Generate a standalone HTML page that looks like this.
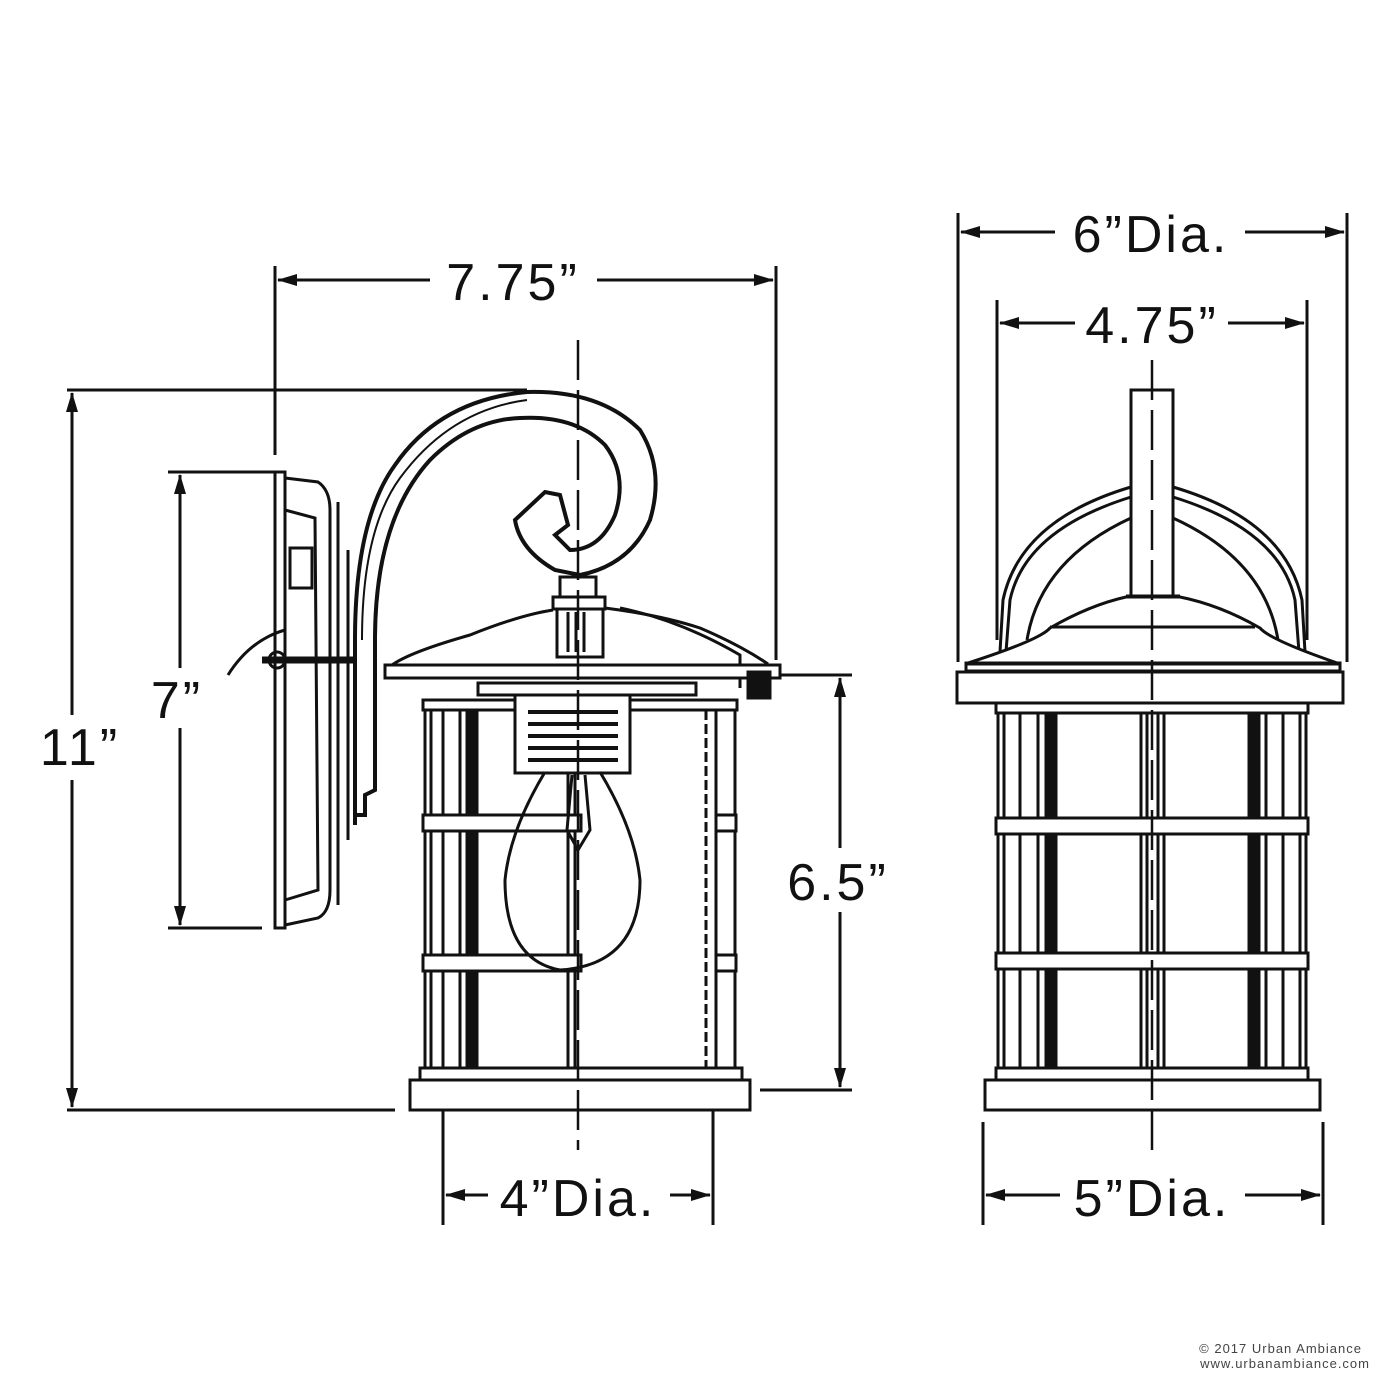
<!DOCTYPE html>
<html><head><meta charset="utf-8"><style>
html,body{margin:0;padding:0;background:#fff}
svg{display:block}
text{font-family:"Liberation Sans",sans-serif;fill:#111}
</style></head><body>
<svg width="1400" height="1400" viewBox="0 0 1400 1400" xmlns="http://www.w3.org/2000/svg">
<defs>
<marker id="a" viewBox="0 0 20 12" refX="19" refY="6" markerWidth="20" markerHeight="12" markerUnits="userSpaceOnUse" orient="auto-start-reverse"><path d="M0,0 L20,6 L0,12 Z" fill="#111"/></marker>
</defs>
<g stroke="#111" fill="none" stroke-width="3">
<!-- ========== RIGHT VIEW ========== -->
<line x1="958" y1="213" x2="958" y2="662"/>
<line x1="1347" y1="213" x2="1347" y2="662"/>
<line x1="961" y1="232" x2="1055" y2="232" marker-start="url(#a)"/>
<line x1="1245" y1="232" x2="1344" y2="232" marker-end="url(#a)"/>
<line x1="997" y1="300" x2="997" y2="640"/>
<line x1="1307" y1="300" x2="1307" y2="640"/>
<line x1="1000" y1="323" x2="1075" y2="323" marker-start="url(#a)"/>
<line x1="1228" y1="323" x2="1304" y2="323" marker-end="url(#a)"/>
<!-- arches -->
<path d="M1000,652 L1003,600 Q1020,520 1131,487" />
<path d="M1006,652 L1010,600 Q1025,530 1131,497" />
<path d="M1027,640 Q1040,560 1131,518" />
<path d="M1305,652 L1302,600 Q1285,520 1173,487" />
<path d="M1299,652 L1295,600 Q1280,530 1173,497" />
<path d="M1278,640 Q1265,560 1173,518" />
<!-- stem -->
<rect x="1131" y="390" width="42" height="207" fill="#fff"/>
<line x1="1126" y1="597" x2="1180" y2="597" stroke-width="5"/>
<!-- roof cap -->
<path d="M965,664 Q1040,640 1050,628 Q1090,605 1126,597 L1180,597 Q1220,605 1260,628 Q1270,640 1340,664 Z" fill="#fff"/>
<line x1="1050" y1="627" x2="1255" y2="627"/>
<rect x="966" y="663" width="374" height="8"/>
<rect x="957" y="672" width="386" height="31"/>
<!-- cage -->
<rect x="996" y="703" width="312" height="10"/>
<line x1="998" y1="713" x2="998" y2="1068"/>
<line x1="1306" y1="713" x2="1306" y2="1068"/>
<line x1="1004" y1="713" x2="1004" y2="1068"/>
<line x1="1020" y1="713" x2="1020" y2="1068"/>
<line x1="1038" y1="713" x2="1038" y2="1068"/>
<rect x="1046" y="713" width="10" height="355" fill="#111"/>
<rect x="1249" y="713" width="10" height="355" fill="#111"/>
<line x1="1266" y1="713" x2="1266" y2="1068"/>
<line x1="1283" y1="713" x2="1283" y2="1068"/>
<line x1="1300" y1="713" x2="1300" y2="1068"/>
<line x1="1141" y1="713" x2="1141" y2="1068"/>
<line x1="1147" y1="713" x2="1147" y2="1068"/>
<line x1="1158" y1="713" x2="1158" y2="1068"/>
<line x1="1164" y1="713" x2="1164" y2="1068"/>
<rect x="996" y="818" width="312" height="16" fill="#fff"/>
<rect x="996" y="953" width="312" height="16" fill="#fff"/>
<rect x="996" y="1068" width="312" height="12" fill="#fff"/>
<rect x="985" y="1080" width="335" height="30" fill="#fff"/>
<line x1="1152" y1="360" x2="1152" y2="1150" stroke-dasharray="40,10" stroke-width="2.5"/>
<line x1="983" y1="1122" x2="983" y2="1225"/>
<line x1="1323" y1="1122" x2="1323" y2="1225"/>
<line x1="986" y1="1195" x2="1060" y2="1195" marker-start="url(#a)"/>
<line x1="1245" y1="1195" x2="1320" y2="1195" marker-end="url(#a)"/>

<!-- ========== LEFT VIEW ========== -->
<line x1="275" y1="266" x2="275" y2="455"/>
<line x1="776" y1="266" x2="776" y2="660"/>
<line x1="278" y1="280" x2="430" y2="280" marker-start="url(#a)"/>
<line x1="597" y1="280" x2="773" y2="280" marker-end="url(#a)"/>
<line x1="67" y1="390" x2="527" y2="390"/>
<line x1="67" y1="1110" x2="395" y2="1110"/>
<line x1="72" y1="393" x2="72" y2="715" marker-start="url(#a)"/>
<line x1="72" y1="780" x2="72" y2="1107" marker-end="url(#a)"/>
<line x1="168" y1="472" x2="275" y2="472"/>
<line x1="168" y1="928" x2="262" y2="928"/>
<line x1="180" y1="475" x2="180" y2="668" marker-start="url(#a)"/>
<line x1="180" y1="728" x2="180" y2="925" marker-end="url(#a)"/>
<line x1="760" y1="675" x2="852" y2="675"/>
<line x1="760" y1="1090" x2="852" y2="1090"/>
<line x1="840" y1="678" x2="840" y2="848" marker-start="url(#a)"/>
<line x1="840" y1="912" x2="840" y2="1087" marker-end="url(#a)"/>
<line x1="443" y1="1095" x2="443" y2="1225"/>
<line x1="713" y1="1095" x2="713" y2="1225"/>
<line x1="446" y1="1195" x2="488" y2="1195" marker-start="url(#a)"/>
<line x1="670" y1="1195" x2="710" y2="1195" marker-end="url(#a)"/>
<!-- wall plate -->
<rect x="275" y="472" width="10" height="456"/>
<path d="M285,478 L318,482 Q330,490 330,510 L330,890 Q330,912 318,918 L285,925"/>
<path d="M285,510 L315,518 L318,890 L285,900"/>
<line x1="338" y1="502" x2="338" y2="905"/>
<line x1="348" y1="550" x2="348" y2="840"/>
<rect x="290" y="548" width="22" height="40"/>
<line x1="262" y1="660" x2="362" y2="660" stroke-width="7"/>
<circle cx="277" cy="660" r="8"/>
<path d="M228,675 Q250,640 285,630"/>
<!-- arm -->
<path d="M355,780 L355,640 Q355,520 395,465 Q440,400 527,392 Q600,390 640,430 Q665,470 650,520 Q630,565 580,575 L555,570 Q520,550 515,520 L545,492 L560,495 L568,525 L555,535 L570,550 Q600,550 615,515 Q628,475 605,445 Q575,415 520,418 Q470,420 430,460 Q375,520 375,640 L375,790 L365,795 L365,815 L355,815 L355,825 Z" fill="#fff" stroke-width="4"/>
<path d="M362,640 Q362,530 400,478 Q450,410 527,400" stroke-width="2"/>
<!-- finial -->
<rect x="560" y="577" width="36" height="20"/>
<rect x="553" y="597" width="52" height="12"/>
<rect x="557" y="609" width="46" height="48"/>
<line x1="568" y1="612" x2="568" y2="652"/><line x1="576" y1="612" x2="576" y2="652"/><line x1="584" y1="612" x2="584" y2="652"/>
<!-- roof -->
<path d="M392,665 Q410,652 470,635 Q520,615 553,610"/>
<path d="M605,608 Q660,615 700,628 Q740,645 768,664"/>
<path d="M620,608 Q680,620 740,655 L740,688"/>
<rect x="385" y="665" width="395" height="13" fill="#fff"/>
<rect x="478" y="683" width="218" height="12" fill="#fff"/>
<rect x="748" y="672" width="22" height="26" fill="#111"/>
<!-- cage -->
<rect x="423" y="700" width="314" height="10" fill="#fff"/>
<line x1="425" y1="710" x2="425" y2="1068"/>
<line x1="431" y1="710" x2="431" y2="1068"/>
<line x1="443" y1="710" x2="443" y2="1068"/>
<line x1="460" y1="710" x2="460" y2="1068"/>
<rect x="467" y="710" width="10" height="358" fill="#111"/>
<line x1="568" y1="710" x2="568" y2="1068"/>
<line x1="575" y1="710" x2="575" y2="1068"/>
<line x1="706" y1="710" x2="706" y2="1068" stroke-dasharray="10,4"/>
<line x1="716" y1="710" x2="716" y2="1068"/>
<line x1="735" y1="710" x2="735" y2="1068"/>
<rect x="423" y="815" width="158" height="16" fill="#fff"/>
<rect x="423" y="955" width="158" height="16" fill="#fff"/>
<rect x="716" y="815" width="20" height="16" fill="#fff"/>
<rect x="716" y="955" width="20" height="16" fill="#fff"/>
<rect x="420" y="1068" width="322" height="12" fill="#fff"/>
<rect x="410" y="1080" width="340" height="30" fill="#fff"/>
<!-- socket -->
<rect x="515" y="695" width="115" height="78" fill="#fff"/>
<g stroke-width="4">
<line x1="528" y1="712" x2="618" y2="712"/><line x1="528" y1="724" x2="618" y2="724"/>
<line x1="528" y1="736" x2="618" y2="736"/><line x1="528" y1="748" x2="618" y2="748"/>
<line x1="528" y1="760" x2="618" y2="760"/>
</g>
<!-- bulb -->
<path d="M545,772 Q510,830 505,880 Q505,960 560,970 Q640,965 640,880 Q635,830 600,772"/>
<path d="M572,775 L567,830 L578,850 L590,830 L585,775"/>
<line x1="578" y1="340" x2="578" y2="1150" stroke-dasharray="40,10" stroke-width="2.5"/>
</g>
<g font-size="52" letter-spacing="3">
<text x="513" y="300" text-anchor="middle">7.75”</text>
<text x="1151" y="252" text-anchor="middle">6”Dia.</text>
<text x="1152" y="343" text-anchor="middle">4.75”</text>
<text x="80" y="765" text-anchor="middle">11”</text>
<text x="177" y="718" text-anchor="middle">7”</text>
<text x="838" y="900" text-anchor="middle">6.5”</text>
<text x="578" y="1216" text-anchor="middle">4”Dia.</text>
<text x="1152" y="1216" text-anchor="middle">5”Dia.</text>
</g>
<g font-size="13" letter-spacing="1" style="fill:#444">
<text x="1362" y="1353" text-anchor="end" style="fill:#444">© 2017 Urban Ambiance</text>
<text x="1370" y="1368" text-anchor="end" style="fill:#444">www.urbanambiance.com</text>
</g>
</svg>
</body></html>
